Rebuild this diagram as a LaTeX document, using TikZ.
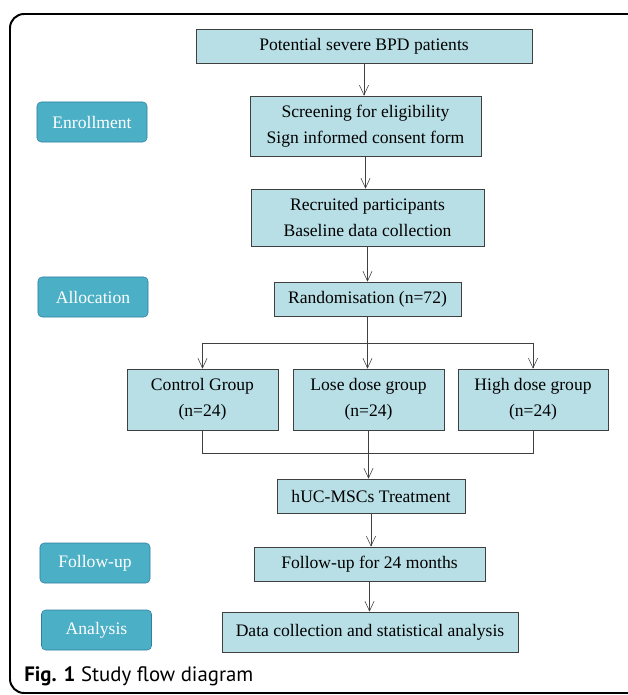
\documentclass[tikz,border=0pt]{standalone}
\usepackage{fontspec}
\setmainfont{Liberation Serif}
\newfontfamily\capfont{PT Sans}
\usetikzlibrary{arrows.meta}
\definecolor{boxfill}{HTML}{B8DFE6}
\definecolor{boxline}{HTML}{404040}
\definecolor{stagefill}{HTML}{4BAFC6}
\definecolor{stageline}{HTML}{2F7FA0}

\begin{document}
\begin{tikzpicture}[x=0.025cm, y=-0.025cm,
	stepbox/.style={draw=boxline, fill=boxfill, align=center, inner sep=1pt, font=\fontsize{12.5}{18.5}\selectfont},
	stage/.style={draw=stageline, fill=stagefill, rounded corners=3pt, text=white, minimum width=27.5mm, minimum height=10mm, font=\fontsize{12.5}{14}\selectfont},
	flow/.style={draw=boxline, -{Straight Barb[length=7pt, width=6.5pt]}}]
	\clip (0,0) rectangle (628,695);
	\useasboundingbox (0,0) rectangle (628,695);
	\draw[line width=1.4pt, rounded corners=10pt] (660,14) -- (10,14) -- (10,693) -- (660,693);

	% stages on the left
	\node[stage] (enrol) at (92,122) {Enrollment};
	\node[stage] (alloc) at (93,297) {Allocation};
	\node[stage] (follow) at (95,563) {Follow-up};
	\node[stage] (anal) at (96.5,630) {Analysis};

	% main flow
	\node[stepbox, minimum width=84mm, minimum height=8.5mm] (pot) at (364,46) {Potential severe BPD patients};
	\node[stepbox, minimum width=57.75mm, minimum height=15mm] (scr) at (365.5,126) {Screening for eligibility\\Sign informed consent form};
	\node[stepbox, minimum width=58.25mm, minimum height=14.25mm] (recr) at (367.5,217.5) {Recruited participants\\Baseline data collection};
	\node[stepbox, minimum width=46.75mm, minimum height=8.5mm] (rand) at (367.5,299) {Randomisation (n=72)};
	\node[stepbox, minimum width=37.75mm, minimum height=15.25mm] (ctrl) at (202.5,399.5) {Control Group\\(n=24)};
	\node[stepbox, minimum width=37.75mm, minimum height=15.25mm] (lose) at (368.5,399.5) {Lose dose group\\(n=24)};
	\node[stepbox, minimum width=37.5mm, minimum height=15.25mm] (high) at (533,399.5) {High dose group\\(n=24)};
	\node[stepbox, minimum width=47mm, minimum height=8.5mm] (huc) at (371,496) {hUC-MSCs Treatment};
	\node[stepbox, minimum width=57.75mm, minimum height=8.5mm] (fup) at (369.5,564) {Follow-up for 24 months};
	\node[stepbox, minimum width=74mm, minimum height=10mm] (data) at (370,632) {Data collection and statistical analysis};

	\coordinate (split) at (368,343);
	\coordinate (merge) at (368,453);

	\draw[flow] (pot) -- (pot |- scr.north);
	\draw[flow] (scr) -- (scr |- recr.north);
	\draw[flow] (recr) -- (recr |- rand.north);
	\draw[flow] (rand) -- (rand |- lose.north);
	\draw[boxline] (ctrl.north |- split) -- (high.north |- split);
	\draw[flow] (ctrl.north |- split) -- (ctrl);
	\draw[flow] (high.north |- split) -- (high);
	\draw[boxline] (ctrl) -- (ctrl.south |- merge) -- (high.south |- merge) -- (high);
	\draw[flow] (lose) -- (lose |- huc.north);
	\draw[flow] (huc) -- (huc |- fup.north);
	\draw[flow] (fup) -- (fup |- data.north);

	\node[anchor=west, inner sep=0pt, font=\capfont\fontsize{14.8}{16}\selectfont] (cap) at (24,676) {\textbf{Fig. 1} Study flow diagram};
\end{tikzpicture}
\end{document}
